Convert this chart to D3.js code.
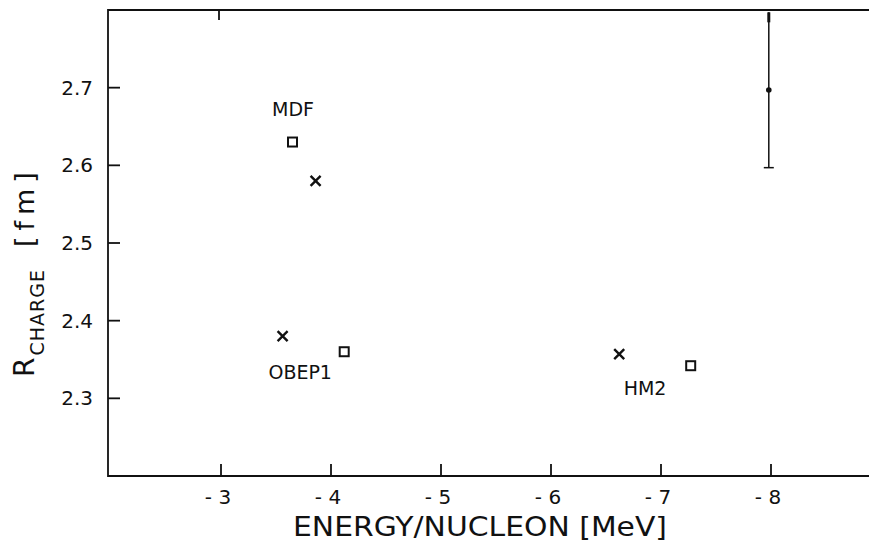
<!DOCTYPE html>
<html lang="en">
<head>
  <meta charset="utf-8">
  <script src="https://d3js.org/d3.v7.min.js"></script>
  <style>
    body { margin: 0; background: #fff; }
    svg { display: block; font-family: "DejaVu Sans", "Liberation Sans", sans-serif; }
    .frame { stroke: #111; stroke-width: 1.8; fill: none; }
    .tick-lbl { font-size: 20px; fill: #111; }
    .mark { stroke: #111; fill: none; }
    .lbl { font-size: 19px; fill: #111; }
  </style>
</head>
<body>
<svg id="chart" width="869" height="542"></svg>
<script>
  // values
  var squareX = [-3.65, -4.12, -7.27];
  var squareY = [2.63, 2.36, 2.342];
  var crossX = [-3.86, -3.56, -6.62];
  var crossY = [2.58, 2.38, 2.357];
  var expX = [-7.98];
  var expY = [2.697];
  var expErr = [0.1];
  var labelText = ["MDF", "OBEP1", "HM2"];
  var labelX = [-3.655, -3.72, -6.855];
  var labelY = [2.663, 2.3245, 2.304];
  var xTicks = [-3, -4, -5, -6, -7, -8];
  var yTicks = [2.3, 2.4, 2.5, 2.6, 2.7];

  var svg = d3.select("#chart");
  var plotLeft = 108, plotTop = 10, plotBottom = 476;

  var x = d3.scaleLinear().domain([-3, -8]).range([221, 771]);
  var y = d3.scaleLinear().domain([2.2, 2.8]).range([plotBottom, plotTop]);

  // frame: left, top, bottom (no right side visible)
  svg.append("path").attr("class", "frame")
    .attr("d", "M869," + plotTop + "H" + plotLeft + "V" + plotBottom + "H869");

  // x ticks (inward) and labels
  svg.selectAll(".xt").data(xTicks).enter().append("line")
    .attr("class", "frame")
    .attr("x1", function(d) { return x(d); }).attr("x2", function(d) { return x(d); })
    .attr("y1", plotBottom).attr("y2", plotBottom - 12);
  svg.selectAll(".xl").data(xTicks).enter().append("text")
    .attr("class", "tick-lbl")
    .attr("x", function(d) { return x(d) - 3; })
    .attr("y", 504)
    .attr("text-anchor", "middle")
    .text(function(d) { return "- " + Math.abs(d); });

  // lone top tick at -3
  svg.append("line").attr("class", "frame")
    .attr("x1", x(-3) - 2).attr("x2", x(-3) - 2).attr("y1", plotTop).attr("y2", plotTop + 10);

  // y ticks and labels
  svg.selectAll(".yt").data(yTicks).enter().append("line")
    .attr("class", "frame")
    .attr("x1", plotLeft).attr("x2", plotLeft + 12)
    .attr("y1", function(d) { return y(d); }).attr("y2", function(d) { return y(d); });
  svg.selectAll(".yl").data(yTicks).enter().append("text")
    .attr("class", "tick-lbl")
    .attr("x", 93)
    .attr("y", function(d) { return y(d) + 7; })
    .attr("text-anchor", "end")
    .text(function(d) { return d.toFixed(1); });

  // axis titles
  svg.append("text")
    .attr("x", 293).attr("y", 536)
    .attr("textLength", 374).attr("lengthAdjust", "spacingAndGlyphs")
    .style("font-size", "26px").style("fill", "#111")
    .text("ENERGY/NUCLEON [MeV]");

  var yt = svg.append("text")
    .attr("transform", "translate(34,377) rotate(-90)")
    .style("fill", "#111");
  yt.append("tspan").style("font-size", "28px").text("R");
  yt.append("tspan").style("font-size", "19px").attr("dy", 10).attr("dx", 2)
    .style("letter-spacing", "1px").text("CHARGE");
  yt.append("tspan").style("font-size", "27px").attr("dy", -10).attr("dx", 22)
    .style("letter-spacing", "6px").text("[fm]");

  // squares
  svg.selectAll(".sq").data(squareX).enter().append("rect")
    .attr("class", "mark").attr("stroke-width", 2)
    .attr("x", function(d) { return x(d) - 4.5; })
    .attr("y", function(d, i) { return y(squareY[i]) - 4.5; })
    .attr("width", 9).attr("height", 9);

  // crosses
  var cs = 5;
  svg.selectAll(".cr").data(crossX).enter().append("path")
    .attr("class", "mark").attr("stroke-width", 2.4)
    .attr("d", function(d, i) {
      var cx = x(d), cy = y(crossY[i]);
      return "M" + (cx - cs) + "," + (cy - cs) + "L" + (cx + cs) + "," + (cy + cs) +
             "M" + (cx - cs) + "," + (cy + cs) + "L" + (cx + cs) + "," + (cy - cs);
    });

  // experimental point with error bar
  expX.forEach(function(d, i) {
    var cx = x(d);
    var lo = y(expY[i] - expErr[i]), hi = Math.max(y(expY[i] + expErr[i]), plotTop);
    svg.append("line").attr("class", "mark").attr("stroke-width", 1.5)
      .attr("x1", cx).attr("x2", cx).attr("y1", hi).attr("y2", lo);
    svg.append("line").attr("class", "mark").attr("stroke-width", 1.5)
      .attr("x1", cx - 5).attr("x2", cx + 5).attr("y1", lo).attr("y2", lo);
    svg.append("line").attr("class", "mark").attr("stroke-width", 3)
      .attr("x1", cx).attr("x2", cx).attr("y1", hi).attr("y2", hi + 10);
    svg.append("circle").attr("cx", cx).attr("cy", y(expY[i])).attr("r", 2.8).attr("fill", "#111");
  });

  // model labels
  svg.selectAll(".lbl").data(labelText).enter().append("text")
    .attr("class", "lbl")
    .attr("x", function(d, i) { return x(labelX[i]); })
    .attr("y", function(d, i) { return y(labelY[i]); })
    .attr("text-anchor", "middle")
    .text(function(d) { return d; });
</script>
</body>
</html>
